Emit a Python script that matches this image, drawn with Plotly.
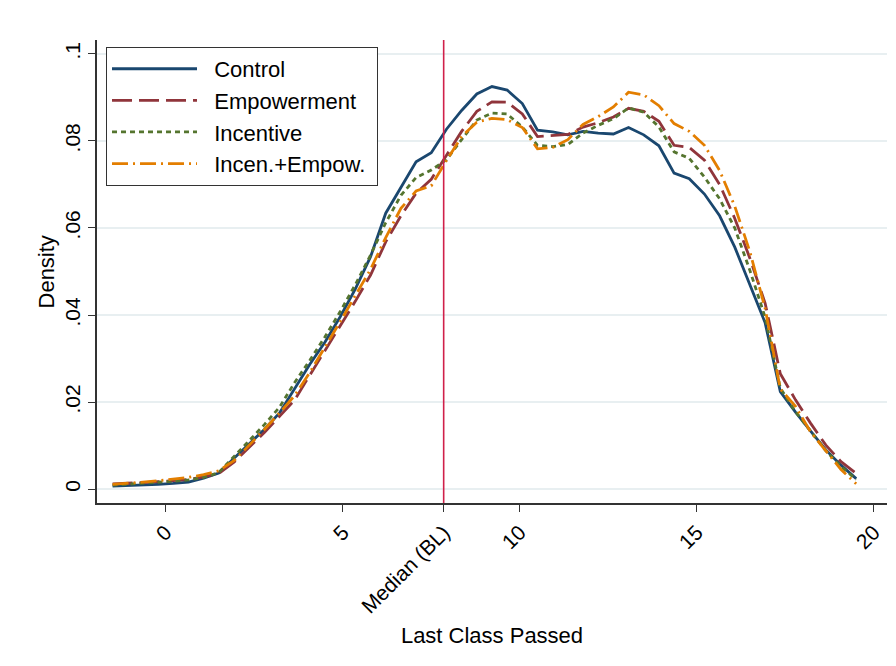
import plotly.graph_objects as go

x_grid = [-1.5, -1.071, -0.643, -0.214, 0.214, 0.643, 1.071, 1.5, 1.929, 2.357,
          2.786, 3.214, 3.643, 4.071, 4.5, 4.929, 5.357, 5.786, 6.214, 6.643,
          7.071, 7.5, 7.929, 8.357, 8.786, 9.214, 9.643, 10.071, 10.5, 10.929,
          11.357, 11.786, 12.214, 12.643, 13.071, 13.5, 13.929, 14.357, 14.786, 15.214,
          15.643, 16.071, 16.5, 16.929, 17.357, 17.786, 18.214, 18.643, 19.071, 19.5]

control = [0.0007, 0.0008, 0.0010, 0.0011, 0.0013, 0.0016, 0.0025, 0.0037, 0.0071, 0.0105,
           0.0137, 0.0175, 0.0232, 0.0287, 0.0338, 0.0396, 0.0460, 0.0534, 0.0634, 0.0692,
           0.0752, 0.0773, 0.0827, 0.0870, 0.0908, 0.0925, 0.0917, 0.0886, 0.0825, 0.0821,
           0.0814, 0.0822, 0.0818, 0.0816, 0.0831, 0.0814, 0.0789, 0.0726, 0.0713, 0.0678,
           0.0628, 0.0556, 0.0471, 0.0382, 0.0224, 0.0177, 0.0133, 0.0090, 0.0055, 0.0024]

empowerment = [0.0012, 0.0013, 0.0015, 0.0017, 0.0019, 0.0022, 0.0028, 0.0036, 0.0062, 0.0095,
               0.0130, 0.0167, 0.0205, 0.0262, 0.0318, 0.0374, 0.0432, 0.0492, 0.0568, 0.0628,
               0.0680, 0.0712, 0.0768, 0.0822, 0.0868, 0.0890, 0.0889, 0.0862, 0.0810, 0.0812,
               0.0815, 0.0832, 0.0842, 0.0855, 0.0875, 0.0868, 0.0845, 0.0790, 0.0785, 0.0756,
               0.0700, 0.0622, 0.0530, 0.0427, 0.0265, 0.0205, 0.0151, 0.0101, 0.0063, 0.0036]

incentive = [0.0009, 0.0011, 0.0013, 0.0015, 0.0018, 0.0021, 0.0027, 0.0038, 0.0074, 0.0112,
             0.0148, 0.0188, 0.0245, 0.0296, 0.0350, 0.0408, 0.0470, 0.0538, 0.0612, 0.0675,
             0.0716, 0.0733, 0.0757, 0.0803, 0.0848, 0.0864, 0.0862, 0.0832, 0.0790, 0.0787,
             0.0792, 0.0818, 0.0836, 0.0851, 0.0876, 0.0866, 0.0832, 0.0775, 0.0760, 0.0717,
             0.0667, 0.0600, 0.0502, 0.0395, 0.0232, 0.0178, 0.0132, 0.0088, 0.0052, 0.0022]

incen_empow = [0.0011, 0.0013, 0.0016, 0.0019, 0.0023, 0.0027, 0.0033, 0.0042, 0.0065, 0.0100,
               0.0137, 0.0175, 0.0215, 0.0268, 0.0325, 0.0385, 0.0445, 0.0505, 0.0578, 0.0645,
               0.0685, 0.0697, 0.0755, 0.0810, 0.0843, 0.0852, 0.0849, 0.0831, 0.0782, 0.0785,
               0.0803, 0.0838, 0.0856, 0.0878, 0.0912, 0.0906, 0.0881, 0.0840, 0.0822, 0.0790,
               0.0732, 0.0650, 0.0545, 0.0415, 0.0230, 0.0190, 0.0131, 0.0089, 0.0045, 0.0012]

series_names = ["Control", "Empowerment", "Incentive", "Incen.+Empow."]
series_colors = ["#1a476f", "#90353b", "#55752f", "#e37e00"]
series_dash = ["solid", "20px,7px", "5px,4px", "16px,5px,2px,5px"]

median_bl = 7.85
x_tickvals = [0, 5, median_bl, 10, 15, 20]
x_ticktext = ["0", "5", "Median (BL)", "10", "15", "20"]
y_tickvals = [0, 0.02, 0.04, 0.06, 0.08, 0.1]
y_ticktext = ["0", ".02", ".04", ".06", ".08", ".1"]

FONT = "Liberation Sans, Arial, sans-serif"
PAD = "\u00a0\u00a0"

fig = go.Figure()
for i, (name, ys) in enumerate(zip(series_names, [control, empowerment, incentive, incen_empow])):
    fig.add_trace(go.Scatter(
        x=x_grid, y=ys, mode="lines", name=PAD + name + "\u00a0", legendgroup=name,
        line=dict(color=series_colors[i], width=2.8, dash=series_dash[i]),
    ))

fig.add_shape(type="line", xref="x", yref="paper", x0=median_bl, x1=median_bl, y0=0, y1=1,
              line=dict(color="#d0204a", width=1.6), layer="above")

fig.add_annotation(text="Density", xref="paper", yref="paper", x=-0.0633, y=0.5,
                   textangle=-90, showarrow=False, xanchor="center", yanchor="middle",
                   font=dict(family=FONT, size=22, color="#000000"))

fig.update_layout(
    width=896, height=666,
    margin=dict(l=97, r=9, t=40, b=163),
    paper_bgcolor="white", plot_bgcolor="white",
    font=dict(family=FONT, size=21, color="#000000"),
    showlegend=True,
    legend=dict(
        x=0.0114, y=0.985, xanchor="left", yanchor="top",
        bgcolor="white", bordercolor="#333333", borderwidth=1,
        font=dict(family=FONT, size=22, color="#000000"),
        itemwidth=85, tracegroupgap=0,
    ),
    xaxis=dict(
        range=[-1.94, 20.37], tickmode="array", tickvals=x_tickvals, ticktext=x_ticktext,
        tickangle=-45, ticks="outside", ticklen=7, tickwidth=1.2, tickcolor="#333333",
        showline=True, linecolor="#333333", linewidth=1.6, showgrid=False, zeroline=False,
        title=dict(text="Last Class Passed", font=dict(family=FONT, size=22), standoff=11),
        tickfont=dict(family=FONT, size=21),
    ),
    yaxis=dict(
        range=[-0.0032, 0.1032], tickmode="array", tickvals=y_tickvals, ticktext=y_ticktext,
        tickangle=-90, ticks="outside", ticklen=7, tickwidth=1.2, tickcolor="#333333",
        showline=True, linecolor="#333333", linewidth=1.6, showgrid=True,
        gridcolor="#e8eff1", gridwidth=1.5, zeroline=False,
        tickfont=dict(family=FONT, size=21),
    ),
)

fig.write_html("out.html")
